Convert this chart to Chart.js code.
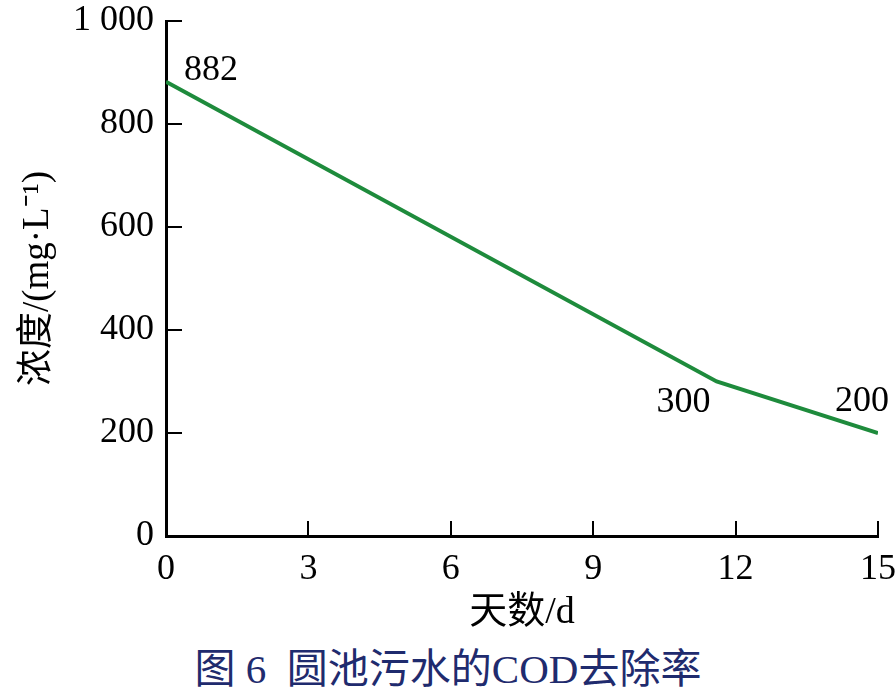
<!DOCTYPE html>
<html>
<head>
<meta charset="utf-8">
<script src="https://cdn.jsdelivr.net/npm/chart.js@4.4.1/dist/chart.umd.min.js"></script>
<style>
  html, body { margin: 0; padding: 0; background: #fff; }
  #wrap { position: relative; width: 896px; height: 640px; }
  #caption {
    width: 896px; height: 58px; line-height: 58px; text-align: center;
    font-family: "Liberation Serif", "Noto Sans CJK SC", serif;
    font-size: 41px; color: #1f2b6e; white-space: pre;
  }
</style>
</head>
<body>
<div id="wrap"><canvas id="c" width="896" height="640"></canvas></div>
<div id="caption">图 6  圆池污水的COD去除率</div>
<script>
// data
const days = [0, 11.6, 15]
const cod = [882, 300, 200]
const pointLabels = ['882', '300', '200']
const xTicks = [0, 3, 6, 9, 12, 15]
const yTicks = [0, 200, 400, 600, 800, 1000]

const FONT = '"Liberation Serif", "Noto Sans CJK SC", serif'
const GREEN = '#1e8b3c'

// inward tick marks + point labels
const marks = {
  id: 'marks',
  afterDraw(chart) {
    const ctx = chart.ctx
    const x = chart.scales.x, y = chart.scales.y
    const area = chart.chartArea
    ctx.save()
    ctx.strokeStyle = '#000'
    ctx.lineWidth = 2
    xTicks.forEach(v => {
      if (v === 0) return
      const px = Math.round(x.getPixelForValue(v))
      ctx.beginPath(); ctx.moveTo(px, area.bottom); ctx.lineTo(px, area.bottom - 15); ctx.stroke()
    })
    yTicks.forEach(v => {
      if (v === 0) return
      const py = Math.round(y.getPixelForValue(v))
      ctx.beginPath(); ctx.moveTo(area.left, py); ctx.lineTo(area.left + 16, py); ctx.stroke()
    })
    // labels next to the points
    const meta = chart.getDatasetMeta(0)
    const offs = [[18, -11, 'left'], [-33, 21, 'center'], [-16, -31, 'center']]
    ctx.fillStyle = '#000'
    ctx.font = '36px ' + FONT
    ctx.textBaseline = 'middle'
    meta.data.forEach((p, i) => {
      ctx.textAlign = offs[i][2]
      ctx.fillText(pointLabels[i], p.x + offs[i][0], p.y + offs[i][1])
    })
    ctx.restore()
  }
}

new Chart(document.getElementById('c'), {
  type: 'line',
  data: {
    datasets: [{
      data: days.map((d, i) => ({x: d, y: cod[i]})),
      borderColor: GREEN,
      borderWidth: 4,
      pointRadius: 0,
      tension: 0
    }]
  },
  options: {
    responsive: false,
    animation: false,
    layout: { padding: 0 },
    plugins: { legend: { display: false }, tooltip: { enabled: false } },
    scales: {
      x: {
        type: 'linear', min: 0, max: 15,
        afterBuildTicks(s) { s.ticks = xTicks.map(v => ({value: v})) },
        afterFit(s) { s.height = 104; s.paddingLeft = 0; s.paddingRight = 18 },
        grid: { display: true, drawOnChartArea: false, drawTicks: false },
        border: { display: true, color: '#000', width: 3 },
        ticks: { color: '#000', padding: 12, font: { family: FONT, size: 36 }, maxRotation: 0 },
        title: { display: true, text: '天数/d', color: '#000', font: { family: FONT, size: 38 }, padding: { top: 0 } }
      },
      y: {
        type: 'linear', min: 0, max: 1000,
        afterBuildTicks(s) { s.ticks = yTicks.map(v => ({value: v})) },
        afterFit(s) { s.width = 166; s.paddingTop = 21; s.paddingBottom = 0 },
        grid: { display: true, drawOnChartArea: false, drawTicks: false },
        border: { display: true, color: '#000', width: 3 },
        ticks: {
          color: '#000', padding: 12, font: { family: FONT, size: 36 },
          callback: v => v === 1000 ? '1 000' : String(v)
        },
        title: { display: true, text: '浓度/(mg·L⁻¹)', color: '#000', font: { family: FONT, size: 37 }, padding: { top: 16, bottom: 0 } }
      }
    }
  },
  plugins: [marks]
})
</script>
</body>
</html>
